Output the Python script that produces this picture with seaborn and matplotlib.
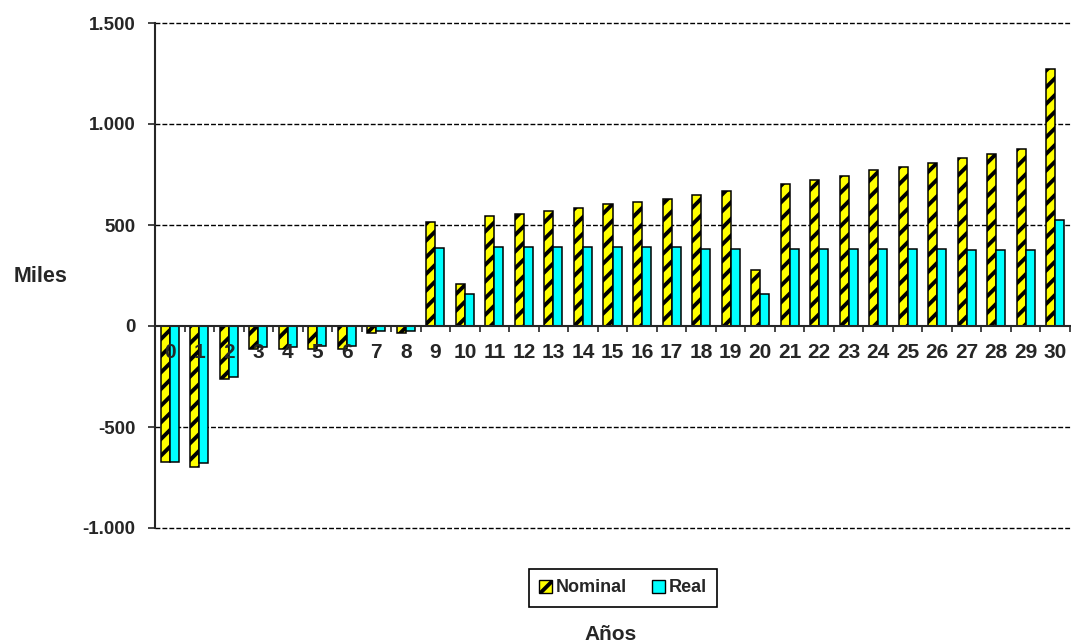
import matplotlib
matplotlib.use("Agg")
import matplotlib.pyplot as plt
from matplotlib.patches import Patch
import numpy as np
import pandas as pd
import seaborn as sns

# Year categories and yearly cash flows (thousands)
years = ["0", "1", "2", "3", "4", "5", "6", "7", "8", "9", "10",
         "11", "12", "13", "14", "15", "16", "17", "18", "19", "20",
         "21", "22", "23", "24", "25", "26", "27", "28", "29", "30"]
nominal = [-675, -700, -260, -115, -115, -115, -115, -35, -35, 513, 210,
           543, 552, 569, 586, 604, 614, 630, 649, 667, 275,
           705, 724, 743, 770, 788, 805, 833, 851, 878, 1272]
real = [-675, -680, -250, -105, -105, -100, -100, -25, -25, 387, 157,
        390, 390, 390, 390, 390, 390, 390, 381, 381, 157,
        382, 382, 382, 382, 382, 382, 374, 374, 374, 525]
series = ["Nominal", "Real"]
y_ticks = [-1000, -500, 0, 500, 1000, 1500]
y_tick_labels = ["-1.000", "-500", "0", "500", "1.000", "1.500"]

sns.set_style("white")
plt.rcParams["font.family"] = ["Liberation Sans", "DejaVu Sans"]
plt.rcParams["font.weight"] = "bold"
plt.rcParams["hatch.linewidth"] = 2.8

df = pd.DataFrame({
    "Año": years * 2,
    "Valor": nominal + real,
    "Serie": [series[0]] * len(years) + [series[1]] * len(years),
})

fig = plt.figure(figsize=(10.71, 6.44), dpi=100)
ax = fig.add_axes([155 / 1071, 1 - 528 / 644, 915 / 1071, 505 / 644])

sns.barplot(data=df, x="Año", y="Valor", hue="Serie", order=years,
            hue_order=series, palette={"Nominal": "#FFFF00", "Real": "#00FFFF"},
            saturation=1, width=0.61, edgecolor="black", linewidth=1.1,
            errorbar=None, legend=False, ax=ax)

for bar in ax.containers[0]:
    bar.set_hatch("//")
for container in ax.containers:
    for bar in container:
        bar.set_zorder(1)

ax.set_xlim(-0.5, len(years) - 0.5)
ax.set_ylim(-1000, 1500)
# tick labels sit on top of the bars; gridlines are drawn separately behind them
ax.set_axisbelow(False)

for v in y_ticks:
    if v != 0:
        ax.axhline(v, color="black", lw=1, ls=(0, (3.5, 1.5)), zorder=0.5,
                   clip_on=False)

for side in ("top", "right"):
    ax.spines[side].set_visible(False)
ax.spines["bottom"].set_position(("data", 0))
ax.spines["bottom"].set_linewidth(1.5)
ax.spines["left"].set_linewidth(1.5)

ax.set_yticks(y_ticks)
ax.set_yticklabels(y_tick_labels, fontsize=13.5, fontweight="bold")
ax.tick_params(axis="y", which="major", direction="out", length=5, width=1.2, pad=9, left=True)

ax.set_xticks(range(len(years)))
ax.set_xticklabels(years, fontsize=15, fontweight="bold")
ax.set_xticks(np.arange(-0.5, len(years), 1), minor=True)
ax.tick_params(axis="x", which="major", length=0, pad=12, bottom=True)
ax.tick_params(axis="x", which="minor", direction="out", length=4, width=1.2, bottom=True)

ax.set_xlabel("")
ax.set_ylabel("")

fig.text(41 / 1071, 1 - 277 / 644, "Miles", ha="center", va="center",
         fontsize=15.5, fontweight="bold")
fig.text(611 / 1071, 1 - 634 / 644, "Años", ha="center", va="center",
         fontsize=15, fontweight="bold")

handles = [Patch(facecolor="#FFFF00", edgecolor="black", hatch="//", lw=1),
           Patch(facecolor="#00FFFF", edgecolor="black", lw=1)]
leg = fig.legend(handles, series, loc="center",
                 bbox_to_anchor=(623 / 1071, 1 - 588 / 644), ncol=2,
                 frameon=True, fancybox=False, edgecolor="black", framealpha=1,
                 prop={"weight": "bold", "size": 13},
                 handlelength=0.7, handleheight=0.7, handletextpad=0.2,
                 columnspacing=1.4, borderpad=0.6)
leg.get_frame().set_linewidth(1.2)

fig.savefig("out.png", dpi=100, facecolor="white")
